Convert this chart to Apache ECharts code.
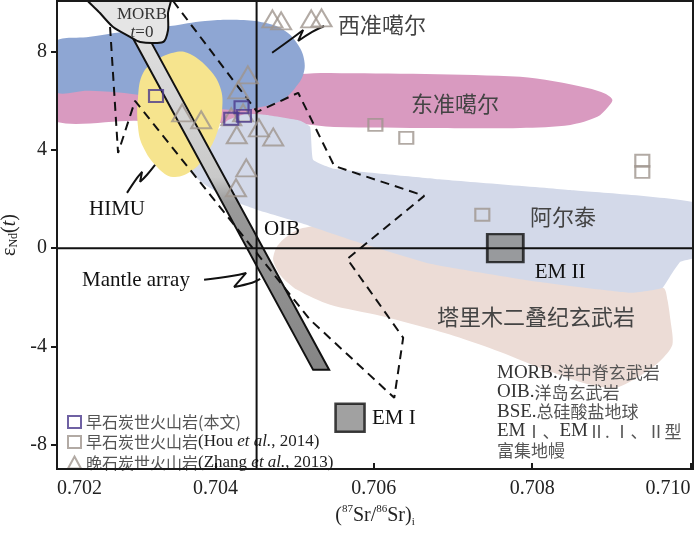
<!DOCTYPE html>
<html>
<head>
<meta charset="utf-8">
<script src="https://cdn.jsdelivr.net/npm/echarts@6/dist/echarts.min.js"></script>
<style>
  html, body { margin: 0; padding: 0; background: #fff; }
  #chart { width: 700px; height: 533px; }
</style>
</head>
<body>
<div id="chart"></div>
<script>
// axis range and ticks
var xMin = 0.702, xMax = 0.71003;
var yMin = -9.0, yMax = 10.07;
var xTicks = [0.702, 0.704, 0.706, 0.708, 0.710];
var yTicks = [-8, -4, 0, 4, 8];
var bseSr = 0.70452;

// samples: [87Sr/86Sr, eNd(t)]
var thisStudy = [[0.70325, 6.20], [0.70433, 5.74], [0.70436, 5.39], [0.70420, 5.27]];
var hou2014 = [[0.70602, 5.02], [0.70641, 4.49], [0.70939, 3.56], [0.70939, 3.11], [0.70737, 1.36]];
var zhang2013 = [
  [0.70472, 9.34], [0.70483, 9.26], [0.70521, 9.34], [0.70534, 9.38],
  [0.70441, 7.06], [0.70429, 6.45], [0.70358, 5.51], [0.70382, 5.23],
  [0.70420, 5.35], [0.70435, 5.51], [0.70455, 4.90], [0.70473, 4.53],
  [0.70427, 4.62], [0.70439, 3.27], [0.70426, 2.46]
];
var emI = [[0.70570, -6.91]];
var emII = [[0.70766, 0.0]];

// fields
var westJunggar = [
  [0.70195, 8.32], [0.702417, 8.61], [0.702922, 8.85], [0.703428, 9.05], [0.70387, 9.26],
  [0.704312, 9.30], [0.704628, 9.18], [0.704881, 8.85], [0.705045, 8.28], [0.705121, 7.67],
  [0.705108, 7.06], [0.705007, 6.53], [0.704843, 6.04], [0.70459, 5.76], [0.704312, 5.64],
  [0.703933, 5.72], [0.703428, 6.04], [0.702922, 6.29], [0.702417, 6.41], [0.70195, 6.45]
];
var eastJunggar = [
  [0.70195, 6.61], [0.703807, 6.86], [0.70507, 7.10], [0.705449, 7.14], [0.707849, 6.98],
  [0.708696, 6.53], [0.708923, 6.29], [0.709012, 6.04], [0.708949, 5.72], [0.708822, 5.35],
  [0.708481, 5.02], [0.707849, 4.90], [0.706776, 4.90], [0.7055, 4.94], [0.70507, 5.06],
  [0.703807, 5.10], [0.702985, 5.19], [0.70195, 5.19]
];
var altay = [
  [0.70363, 3.27], [0.70368, 3.68], [0.703807, 4.17], [0.703996, 4.70], [0.70416, 5.22],
  [0.704375, 5.47], [0.704628, 5.43], [0.70507, 5.19], [0.705196, 4.94], [0.705234, 3.60],
  [0.7055, 3.23], [0.706776, 2.82], [0.708481, 2.37], [0.710124, 1.80], [0.710124, -0.31],
  [0.709871, -0.56], [0.709745, -1.13], [0.709644, -1.62], [0.709239, -1.82], [0.707976, -1.33],
  [0.706713, -0.64], [0.705702, 0.34], [0.70507, 1.03], [0.704565, 1.52], [0.704186, 1.97],
  [0.70387, 2.58]
];
var tarim = [
  [0.704729, -0.48], [0.704817, -1.09], [0.705032, -1.70], [0.705449, -2.31], [0.706081, -2.76],
  [0.706927, -3.49], [0.707597, -4.23], [0.708165, -4.96], [0.708671, -5.52], [0.70905, -5.69],
  [0.709366, -5.20], [0.709618, -4.59], [0.70977, -3.94], [0.709745, -2.92], [0.709707, -2.10],
  [0.709656, -1.62], [0.70886, -1.37], [0.707597, -0.80], [0.706586, -0.15], [0.705702, 0.58],
  [0.705449, 0.95], [0.70507, 0.79], [0.704881, 0.42], [0.704767, 0.01]
];
var himu = [
  [0.703642, 7.96], [0.703895, 7.38], [0.704059, 6.57], [0.704085, 5.64], [0.704021, 4.70],
  [0.703895, 3.88], [0.703718, 3.19], [0.703466, 2.90], [0.703263, 3.31], [0.703087, 4.13],
  [0.703023, 4.94], [0.703023, 6.16], [0.703087, 7.14], [0.703263, 7.67], [0.703466, 7.96]
];
var mantleArray = [[0.702834, 9.30], [0.703036, 9.30], [0.705436, -4.96], [0.705234, -4.96]];
var morb = [
  [0.702354, 10.3], [0.702543, 9.58], [0.702708, 9.01], [0.702922, 8.61], [0.703049, 8.40],
  [0.703339, 8.40], [0.703402, 8.89], [0.703402, 9.58], [0.703428, 10.3]
];
var oibField = [
  [0.70267, 9.01], [0.702771, 3.88], [0.702985, 6.00], [0.705196, -2.92], [0.706258, -6.10],
  [0.706371, -3.65], [0.705664, -0.44], [0.706637, 2.13], [0.7055, 3.35], [0.705045, 6.33],
  [0.704527, 5.55], [0.703466, 10.07]
];
var leaderWest = [[0.704716, 7.96], [0.704944, 8.49], [0.705108, 8.89], [0.705045, 8.44], [0.705222, 8.81], [0.705373, 9.05]];
var leaderHimu = [[0.702884, 2.25], [0.703011, 2.86], [0.703074, 3.11], [0.703049, 2.70], [0.703137, 2.99], [0.703238, 3.39]];
var leaderMantle = [[0.703857, -1.29], [0.704224, -1.13], [0.704388, -1.01], [0.704236, -1.58], [0.704464, -1.41], [0.704565, -1.25]];

var serif = '"Liberation Serif", "DejaVu Serif", serif';
var cjk = '"Noto Sans CJK SC", sans-serif';

var sThis = '早石炭世火山岩(本文)';
var sHou = '早石炭世火山岩(Hou et al., 2014)';
var sZhang = '晚石炭世火山岩(Zhang et al., 2013)';
var legendText = {};
legendText[sThis] = '{cn|早石炭世火山岩(本文)}';
legendText[sHou] = '{cn|早石炭世火山岩}{en|(Hou }{it|et al.}{en|, 2014)}';
legendText[sZhang] = '{cn|晚石炭世火山岩}{en|(Zhang }{it|et al.}{en|, 2013)}';

function field(pts, fill, z, smooth, stroke) {
  return {
    type: 'custom', z: z, clip: true, silent: true,
    data: [pts[0]],
    renderItem: function (params, api) {
      return {
        type: 'polygon',
        shape: { points: pts.map(function (p) { return api.coord(p); }), smooth: smooth },
        style: { fill: fill, stroke: stroke ? '#111' : null, lineWidth: stroke ? 2 : 0 }
      };
    }
  };
}

function path(pts, z, dashed, smooth) {
  return {
    type: 'line', z: z, silent: true, symbol: 'none', smooth: smooth || false,
    data: pts,
    lineStyle: { color: '#111', width: 2, type: dashed ? [9, 6] : 'solid' }
  };
}

var bandFill = new echarts.graphic.LinearGradient(0, 0, 0, 1, [
  { offset: 0, color: '#e2e2e2' },
  { offset: 0.45, color: '#c9c9c9' },
  { offset: 0.52, color: '#9a9a9a' },
  { offset: 1, color: '#858585' }
]);

function label(x, y, text, font, fill, align) {
  return {
    type: 'text', x: x, y: y, z: 100, silent: true,
    style: {
      text: text, font: font, fill: fill || '#222',
      textAlign: align || 'center', textVerticalAlign: 'middle'
    }
  };
}

var chart = echarts.init(document.getElementById('chart'));

chart.setOption({
  animation: false,
  backgroundColor: '#fff',
  grid: { left: 57, right: 7, top: 1, bottom: 64, show: true, z: 30,
    outerBoundsMode: 'none', containLabel: false,
    borderColor: '#1a1a1a', borderWidth: 2, backgroundColor: 'transparent' },
  xAxis: {
    type: 'value', min: xMin, max: xMax, z: 30,
    name: '{p|(}{sup|87}{p|Sr/}{sup|86}{p|Sr)}{sub|i}',
    nameLocation: 'middle', nameGap: 32,
    nameTextStyle: {
      rich: {
        p: { fontFamily: serif, fontSize: 20, color: '#222', lineHeight: 24 },
        sup: { fontFamily: serif, fontSize: 11, color: '#222', verticalAlign: 'top', lineHeight: 24 },
        sub: { fontFamily: serif, fontSize: 11, color: '#222', verticalAlign: 'bottom', lineHeight: 18 }
      }
    },
    axisLine: { show: true, onZero: false, lineStyle: { color: '#1a1a1a', width: 2 } },
    axisTick: { show: true, inside: true, length: 6, customValues: xTicks, lineStyle: { color: '#1a1a1a', width: 2 } },
    axisLabel: {
      customValues: xTicks, margin: 10, fontFamily: serif, fontSize: 20, color: '#222',
      alignMinLabel: 'left', alignMaxLabel: 'right',
      formatter: function (v) { return v.toFixed(3); }
    },
    splitLine: { show: false }
  },
  yAxis: {
    type: 'value', min: yMin, max: yMax, z: 30,
    name: '{p|ε}{sub|Nd}{p|(}{it|t}{p|)}',
    nameLocation: 'middle', nameRotate: 90, nameGap: 31,
    nameTextStyle: {
      rich: {
        p: { fontFamily: serif, fontSize: 20, color: '#222' },
        it: { fontFamily: serif, fontSize: 20, color: '#222', fontStyle: 'italic' },
        sub: { fontFamily: serif, fontSize: 12, color: '#222', verticalAlign: 'bottom' }
      }
    },
    axisLine: { show: true, onZero: false, lineStyle: { color: '#1a1a1a', width: 2 } },
    axisTick: { show: true, inside: false, length: 6, customValues: yTicks, lineStyle: { color: '#1a1a1a', width: 2 } },
    axisLabel: { customValues: yTicks, margin: 10, fontFamily: serif, fontSize: 20, color: '#222' },
    splitLine: { show: false }
  },
  legend: {
    left: 67, top: 414, orient: 'vertical', padding: 0, itemWidth: 13, itemHeight: 12, itemGap: 3.5,
    selectedMode: false,
    data: [
      { name: sThis, icon: 'rect', itemStyle: { color: 'rgba(0,0,0,0)', borderColor: '#4b3a8c', borderWidth: 2 } },
      { name: sHou, icon: 'rect', itemStyle: { color: 'rgba(0,0,0,0)', borderColor: '#9f958d', borderWidth: 2 } },
      { name: sZhang, icon: 'triangle', itemStyle: { color: 'rgba(0,0,0,0)', borderColor: '#9f958d', borderWidth: 2 } }
    ],
    formatter: function (name) { return legendText[name]; },
    textStyle: {
      lineHeight: 16,
      rich: {
        cn: { fontFamily: cjk, fontSize: 16, color: '#555', lineHeight: 16 },
        en: { fontFamily: serif, fontSize: 17, color: '#222', lineHeight: 16 },
        it: { fontFamily: serif, fontSize: 17, color: '#222', fontStyle: 'italic', lineHeight: 16 }
      }
    }
  },
  graphic: [
    label(142, 15, 'MORB', '17px ' + serif, '#333'),
    {
      type: 'text', x: 142, y: 33, z: 100, silent: true,
      style: { text: '{it|t}{p|=0}', textAlign: 'center', textVerticalAlign: 'middle',
        rich: { it: { font: 'italic 17px ' + serif, fill: '#333' }, p: { font: '17px ' + serif, fill: '#333' } } }
    },
    label(382, 25, '西准噶尔', '22px ' + cjk, '#444'),
    label(455, 104, '东准噶尔', '22px ' + cjk, '#444'),
    label(563, 217, '阿尔泰', '22px ' + cjk, '#444'),
    label(536, 317, '塔里木二叠纪玄武岩', '22px ' + cjk, '#444'),
    label(117, 209, 'HIMU', '21px ' + serif, '#111'),
    label(282, 229, 'OIB', '21px ' + serif, '#111'),
    label(136, 280, 'Mantle array', '21px ' + serif, '#111'),
    label(560, 272, 'EM II', '21px ' + serif, '#111'),
    label(372, 418, 'EM I', '21px ' + serif, '#111', 'left'),
    {
      type: 'text', x: 497, y: 363, z: 100, silent: true,
      style: {
        text: [
          '{en|MORB.}{cn|洋中脊玄武岩}',
          '{en|OIB.}{cn|洋岛玄武岩}',
          '{en|BSE.}{cn|总硅酸盐地球}',
          '{en|EM}{cn|Ⅰ、}{en|EM}{cn|Ⅱ. Ⅰ、Ⅱ型}',
          '{cn|富集地幔}'
        ].join('\n'),
        textAlign: 'left', textVerticalAlign: 'top',
        rich: {
          en: { font: '19px ' + serif, fill: '#333', lineHeight: 19.5 },
          cn: { font: '17px ' + cjk, fill: '#555', lineHeight: 19.5 }
        }
      }
    }
  ],
  series: [
    field(tarim, '#ecdcd6', 1, 0.25),
    field(eastJunggar, '#d99ac0', 2, 0.3),
    field(altay, '#d3d9e9', 3, 0.12),
    field(westJunggar, '#8ea6d3', 4, 0.4),
    field(himu, '#f6e48e', 5, 0.4),
    field(mantleArray, bandFill, 6, 0, true),
    field(morb, '#e5e5e5', 7, 0.25, true),
    path(oibField, 8, true),
    path(leaderWest, 8, false, 0.4),
    path(leaderHimu, 8, false, 0.4),
    path(leaderMantle, 8, false, 0.4),
    {
      type: 'scatter', name: 'EM', z: 8, silent: true, symbol: 'rect', symbolSize: [36, 28],
      data: emII, itemStyle: { color: '#8a8a8a', borderColor: '#111', borderWidth: 2.5 }
    },
    {
      type: 'scatter', name: 'EMI', z: 8, silent: true, symbol: 'rect', symbolSize: [29, 28],
      data: emI, itemStyle: { color: '#8a8a8a', borderColor: '#111', borderWidth: 2.5 }
    },
    path([[bseSr, yMin], [bseSr, yMax]], 9, false),
    path([[xMin, 0], [xMax, 0]], 9, false),
    {
      type: 'scatter', name: sZhang, z: 10, symbol: 'triangle', symbolSize: [20, 17],
      data: zhang2013, itemStyle: { color: 'rgba(0,0,0,0)', borderColor: '#9f958d', borderWidth: 2 }
    },
    {
      type: 'scatter', name: sHou, z: 10, symbol: 'rect', symbolSize: [14, 12],
      data: hou2014, itemStyle: { color: 'rgba(0,0,0,0)', borderColor: '#9f958d', borderWidth: 2 }
    },
    {
      type: 'scatter', name: sThis, z: 10, symbol: 'rect', symbolSize: [14, 12],
      data: thisStudy, itemStyle: { color: 'rgba(0,0,0,0)', borderColor: '#4b3a8c', borderWidth: 2 }
    }
  ]
});
</script>
</body>
</html>
